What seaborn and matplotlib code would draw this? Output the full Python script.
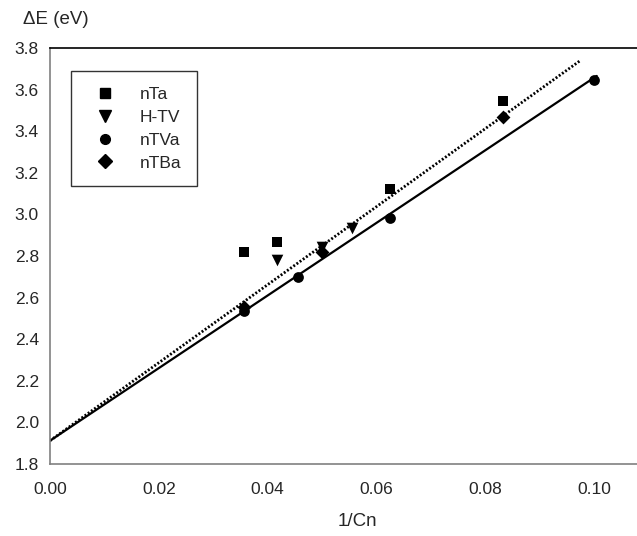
import numpy as np
import pandas as pd
import matplotlib
matplotlib.use("Agg")
import matplotlib.pyplot as plt
import seaborn as sns

# values
nTa_x = [0.0357, 0.0417, 0.0625, 0.0833]
nTa_y = [2.82, 2.865, 3.12, 3.545]
htv_x = [0.0417, 0.0500, 0.0556]
htv_y = [2.78, 2.845, 2.935]
nTVa_x = [0.0357, 0.0455, 0.0625, 0.1000]
nTVa_y = [2.535, 2.70, 2.985, 3.645]
nTBa_x = [0.0357, 0.0500, 0.0833]
nTBa_y = [2.555, 2.82, 3.47]

# linear fits (intercept, slope, x range)
solid_fit = (1.912, 17.45, [0.0, 0.1005])
dotted_fit = (1.912, 18.75, [0.0, 0.0975])

series = ["nTa", "H-TV", "nTVa", "nTBa"]
markers = {"nTa": "s", "H-TV": "v", "nTVa": "o", "nTBa": "D"}
sizes = {"nTa": 50, "H-TV": 70, "nTVa": 60, "nTBa": 50}

df = pd.concat([
    pd.DataFrame({"x": nTa_x, "y": nTa_y, "series": "nTa"}),
    pd.DataFrame({"x": htv_x, "y": htv_y, "series": "H-TV"}),
    pd.DataFrame({"x": nTVa_x, "y": nTVa_y, "series": "nTVa"}),
    pd.DataFrame({"x": nTBa_x, "y": nTBa_y, "series": "nTBa"}),
], ignore_index=True)

sns.set_style("white")
plt.rcParams["font.family"] = ["Liberation Sans", "DejaVu Sans"]

fig = plt.figure(figsize=(6.37, 5.36), dpi=100)
ax = fig.add_axes([50 / 637, 1 - 464 / 536, 587 / 637, 416 / 536])

for name, (b, m, xr) in [("solid", solid_fit), ("dotted", dotted_fit)]:
    xs = np.array(xr)
    ls = "-" if name == "solid" else (0, (0.7, 0.7))
    sns.lineplot(x=xs, y=b + m * xs, ax=ax, color="black", lw=1.6 if name == "solid" else 2.0,
                 linestyle=ls, legend=False)

handles = []
for s in series:
    sub = df[df["series"] == s]
    sns.scatterplot(data=sub, x="x", y="y", ax=ax, marker=markers[s], s=sizes[s],
                    color="black", edgecolor="black", linewidth=0, legend=False, zorder=3)
    handles.append(plt.Line2D([], [], marker=markers[s], color="black", ls="none",
                              markersize=7 if s != "H-TV" else 8))

ax.set_xlim(0, 0.1079)
ax.set_ylim(1.8, 3.8)
ax.set_xticks([0.00, 0.02, 0.04, 0.06, 0.08, 0.10])
ax.set_xticklabels(["0.00", "0.02", "0.04", "0.06", "0.08", "0.10"])
ax.set_yticks(np.arange(1.8, 3.81, 0.2))
ax.set_yticklabels([f"{v:.1f}" for v in np.arange(1.8, 3.81, 0.2)])
ax.tick_params(axis="both", direction="out", length=5, width=1, color="#808080",
               labelsize=12.5)
ax.tick_params(axis="y", pad=3)
ax.tick_params(axis="x", pad=8)
ax.set_xlabel("")
ax.set_ylabel("")

for side in ["left", "bottom"]:
    ax.spines[side].set_color("#808080")
    ax.spines[side].set_linewidth(1.2)
ax.spines["top"].set_color("black")
ax.spines["top"].set_linewidth(1.2)
ax.spines["right"].set_visible(False)

leg = ax.legend(handles, series, loc="upper left", bbox_to_anchor=(0.035, 0.945),
                frameon=True, fancybox=False, fontsize=12.5, handletextpad=0.9,
                borderpad=0.9, labelspacing=0.45, borderaxespad=0, handlelength=2.2)
leg.get_frame().set_edgecolor("black")
leg.get_frame().set_linewidth(1.0)

fig.text(56 / 637, 1 - 20 / 536, "\u0394E (eV)", ha="center", va="center", fontsize=13.5)
fig.text(357 / 637, 1 - 522 / 536, "1/Cn", ha="center", va="center", fontsize=13.5)

fig.savefig("out.png", dpi=100)
